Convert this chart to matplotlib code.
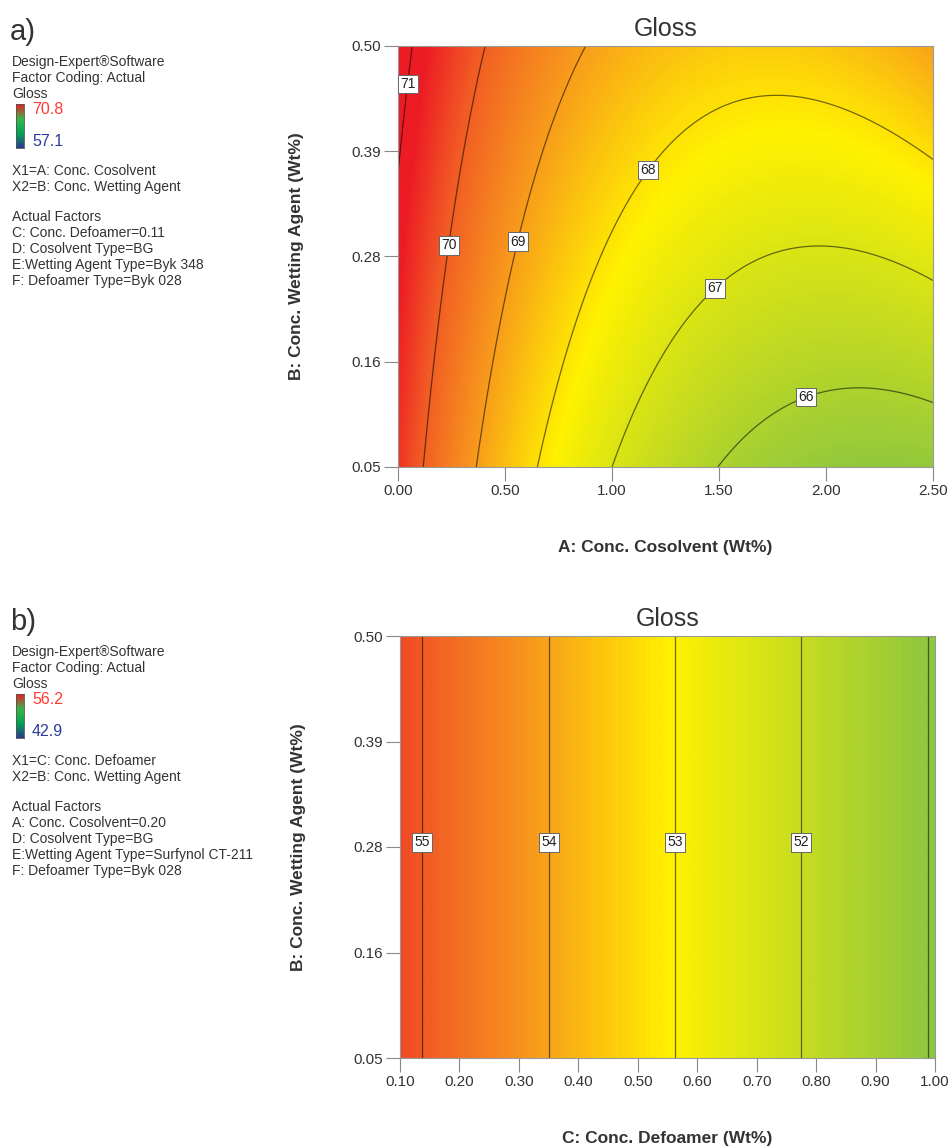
import numpy as np
import matplotlib
matplotlib.use("Agg")
import matplotlib.pyplot as plt
from matplotlib.colors import LinearSegmentedColormap

plt.rcParams['font.family'] = ['Liberation Sans', 'DejaVu Sans']

# --- a) contour readings: gloss level, A: cosolvent (wt%), B: wetting agent (wt%)
a_level = [71, 71, 71,
           70, 70, 70, 70, 70, 70, 70, 70,
           69, 69, 69, 69, 69, 69, 69, 69,
           68, 68, 68, 68, 68, 68, 68, 68, 68, 68, 68, 68, 68,
           67, 67, 67, 67, 67, 67, 67, 67, 67, 67, 67,
           66, 66, 66, 66, 66]
a_cosolvent = [0.065, 0.039, 0.008,
               0.408, 0.350, 0.288, 0.249, 0.234, 0.187, 0.148, 0.121,
               0.868, 0.732, 0.639, 0.576, 0.548, 0.467, 0.405, 0.366,
               0.654, 0.724, 0.826, 0.953, 1.059, 1.153, 1.262, 1.380, 1.536, 1.769, 2.003, 2.237, 2.500,
               1.005, 1.075, 1.160, 1.262, 1.349, 1.465, 1.567, 1.754, 1.972, 2.236, 2.500,
               1.497, 1.691, 1.878, 2.159, 2.500]
a_wetting = [0.500, 0.461, 0.372,
             0.500, 0.429, 0.357, 0.300, 0.277, 0.205, 0.127, 0.049,
             0.500, 0.429, 0.357, 0.300, 0.277, 0.205, 0.127, 0.049,
             0.049, 0.127, 0.205, 0.277, 0.329, 0.365, 0.393, 0.414, 0.438, 0.449, 0.439, 0.414, 0.379,
             0.049, 0.091, 0.134, 0.177, 0.205, 0.241, 0.255, 0.277, 0.286, 0.277, 0.250,
             0.049, 0.099, 0.127, 0.134, 0.118]

# --- b) vertical contour lines: gloss level vs C: defoamer (wt%)
b_level = [55, 54, 53, 52, 51]
b_defoamer = [0.138, 0.350, 0.563, 0.775, 0.988]

y_ticks = [0.05, 0.1625, 0.275, 0.3875, 0.50]
y_ticklabels = ["0.05", "0.16", "0.28", "0.39", "0.50"]
a_xticks = [0.0, 0.5, 1.0, 1.5, 2.0, 2.5]
a_xticklabels = ["0.00", "0.50", "1.00", "1.50", "2.00", "2.50"]
b_xticks = [0.1, 0.2, 0.3, 0.4, 0.5, 0.6, 0.7, 0.8, 0.9, 1.0]
b_xticklabels = ["%.2f" % v for v in b_xticks]

legend_a = ["X1=A: Conc. Cosolvent", "X2=B: Conc. Wetting Agent", "",
            "Actual Factors", "C: Conc. Defoamer=0.11", "D: Cosolvent Type=BG",
            "E:Wetting Agent Type=Byk 348", "F: Defoamer Type=Byk 028"]
legend_b = ["X1=C: Conc. Defoamer", "X2=B: Conc. Wetting Agent", "",
            "Actual Factors", "A: Conc. Cosolvent=0.20", "D: Cosolvent Type=BG",
            "E:Wetting Agent Type=Surfynol CT-211", "F: Defoamer Type=Byk 028"]

# quadratic response surface fitted to the contour readings (Design-Expert style model)
A = np.array(a_cosolvent)
B = np.array(a_wetting)
X = np.column_stack([np.ones_like(A), A, B, A * B, A ** 2, B ** 2])
coef_a, *_ = np.linalg.lstsq(X, np.array(a_level, float), rcond=None)
coef_b = np.polyfit(b_defoamer, b_level, 1)

de_cmap = LinearSegmentedColormap.from_list("de", [
    (0.0, "#2b3990"), (0.35, "#00a651"), (0.60, "#8dc63f"), (0.78, "#fff200"),
    (0.88, "#f7941d"), (0.95, "#f15a24"), (1.0, "#ed1c24")])

W, H = 948, 1147
fig = plt.figure(figsize=(W / 100, H / 100), dpi=100)
txt = "#333333"


def px(x, y):
    return x / W, 1 - y / H


def setup_axes(ax, xticks, xlabels, xlabel):
    ax.set_yticks(y_ticks)
    ax.set_yticklabels(y_ticklabels)
    ax.set_xticks(xticks)
    ax.set_xticklabels(xlabels)
    ax.tick_params(direction='out', length=10, width=0.8, color='#888888',
                   labelsize=11, labelcolor=txt, pad=2)
    for s in ax.spines.values():
        s.set_color('#999999')
        s.set_linewidth(0.8)
    ax.set_xlabel(xlabel, fontsize=12.5, fontweight='bold', color=txt)
    ax.set_ylabel("B: Conc. Wetting Agent (Wt%)", fontsize=12.5, fontweight='bold', color=txt)
    ax.xaxis.set_label_coords(0.5, -0.174)
    ax.yaxis.set_label_coords(-0.176, 0.5)
    ax.set_title("Gloss", fontsize=18, color=txt, pad=7)


def label_box(texts):
    for t in texts:
        t.set_rotation(0)
        t.set_alpha(1)
        t.set_color('#222222')
        t.set_bbox(dict(facecolor='white', edgecolor='#666666', pad=1.6, linewidth=0.7))


# ---- panel a
ax1 = fig.add_axes([398 / W, 1 - 467 / H, 535 / W, 421 / H])
ga, gb = np.meshgrid(np.linspace(0, 2.5, 400), np.linspace(0.05, 0.5, 300))
Za = (coef_a[0] + coef_a[1] * ga + coef_a[2] * gb + coef_a[3] * ga * gb
      + coef_a[4] * ga ** 2 + coef_a[5] * gb ** 2)
ax1.pcolormesh(ga, gb, Za, cmap=de_cmap, vmin=57.1, vmax=70.8, shading='gouraud')
cs1 = ax1.contour(ga, gb, Za, levels=[66, 67, 68, 69, 70, 71], colors='black',
                  alpha=0.55, linewidths=0.9)
t1 = ax1.clabel(cs1, fmt='%d', fontsize=10, inline=False,
                manual=[(0.059, 0.459), (0.233, 0.287), (0.556, 0.291),
                        (1.160, 0.369), (1.473, 0.243), (1.897, 0.129)])
label_box(t1)
ax1.set_xlim(0, 2.5)
ax1.set_ylim(0.05, 0.5)
setup_axes(ax1, a_xticks, a_xticklabels, "A: Conc. Cosolvent (Wt%)")

# ---- panel b
ax2 = fig.add_axes([400 / W, 1 - 1058 / H, 535 / W, 422 / H])
gc, gw = np.meshgrid(np.linspace(0.1, 1.0, 400), np.linspace(0.05, 0.5, 50))
Zb = np.polyval(coef_b, gc)
ax2.pcolormesh(gc, gw, Zb, cmap=de_cmap, vmin=44.0, vmax=55.6, shading='gouraud')
ax2.contour(gc, gw, Zb, levels=[51], colors='black', alpha=0.55, linewidths=0.9)
cs2 = ax2.contour(gc, gw, Zb, levels=[52, 53, 54, 55], colors='black',
                  alpha=0.55, linewidths=0.9)
t2 = ax2.clabel(cs2, fmt='%d', fontsize=10, inline=False,
                manual=[(0.138, 0.28), (0.35, 0.28), (0.563, 0.28), (0.775, 0.28)])
label_box(t2)
ax2.set_xlim(0.1, 1.0)
ax2.set_ylim(0.05, 0.5)
setup_axes(ax2, b_xticks, b_xticklabels, "C: Conc. Defoamer (Wt%)")

# ---- left annotation blocks
bar_cmap = LinearSegmentedColormap.from_list("bar", ["#2b3990", "#00a651", "#39b54a", "#ed1c24"])


def side_block(y0, tag, top, bottom, lines):
    fig.text(*px(10, y0 + 32), tag, fontsize=21, color=txt, va='center', ha='left')
    for i, s in enumerate(["Design-Expert\u00aeSoftware", "Factor Coding: Actual", "Gloss"]):
        fig.text(*px(12, y0 + 62 + 16 * i), s, fontsize=10, color=txt, va='center')
    cax = fig.add_axes([16 / W, 1 - (y0 + 148) / H, 8 / W, 44 / H])
    cax.imshow(np.linspace(1, 0, 60)[:, None], aspect='auto', cmap=bar_cmap)
    cax.set_xticks([])
    cax.set_yticks([])
    for s in cax.spines.values():
        s.set_color('#555555')
        s.set_linewidth(0.6)
    fig.text(*px(32, y0 + 110), top, fontsize=11.5, color='#ff3b30', va='center')
    fig.text(*px(32, y0 + 142), bottom, fontsize=11.5, color='#2e3a9a', va='center')
    for i, s in enumerate(lines):
        if s:
            fig.text(*px(12, y0 + 171 + 16 * i - (0 if i < 3 else 2)), s,
                     fontsize=10, color=txt, va='center')


side_block(0, "a)", "70.8", "57.1", legend_a)
side_block(590, "b)", "56.2", "42.9", legend_b)

fig.savefig("out.png", dpi=100)
